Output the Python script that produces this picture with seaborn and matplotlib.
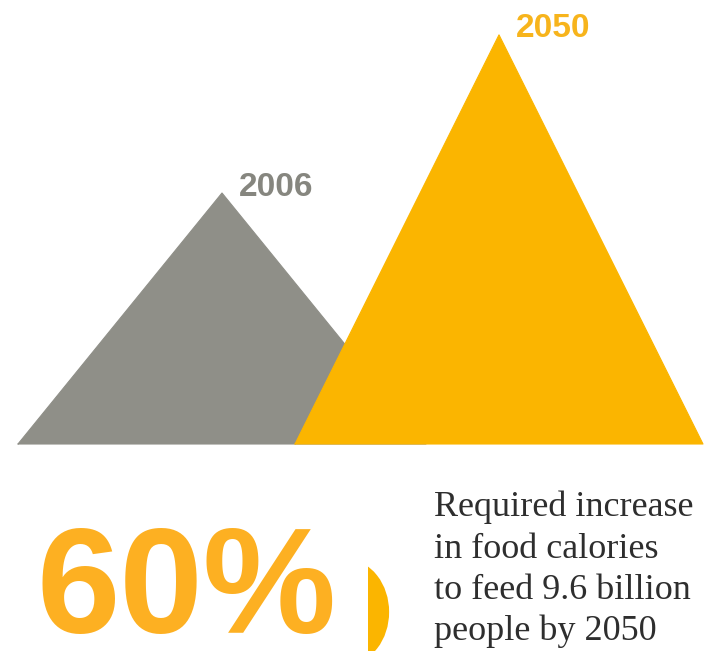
import numpy as np
import pandas as pd
import matplotlib
matplotlib.use("Agg")
import matplotlib.pyplot as plt
from matplotlib.patches import Rectangle, Ellipse
import seaborn as sns

# ---- data ----
years = ["2006", "2050"]
calorie_index = [100, 163]          # relative food calories (2006 = 100)
headline = "60%"
caption_lines = ["Required increase", "in food calories",
                 "to feed 9.6 billion", "people by 2050"]

# ---- style ----
sns.set_theme(style="white")
plt.rcParams["font.family"] = ["Liberation Sans", "DejaVu Sans"]

W, H = 707, 651
fig = plt.figure(figsize=(W / 100, H / 100), dpi=100)
ax = fig.add_axes([0, 0, 1, 1])

px_per_unit = 2.51
base_px = 444
centers = [222, 499]
half_w = 204
colors = ["#8f8f88", "#fbb500"]
label_colors = ["#86867f", "#f7b41c"]

ax.set_xlim(0, W)
ax.set_ylim(-(H - base_px) / px_per_unit, base_px / px_per_unit)
ax.axis("off")

for yr, val, cx, col, lcol in zip(years, calorie_index, centers, colors, label_colors):
    tri = pd.DataFrame({"x": [cx - half_w, cx, cx + half_w, cx - half_w],
                        "y": [0, val, 0, 0]})
    ax.fill(tri["x"], tri["y"], color=col, lw=0, zorder=2)
    sns.lineplot(data=tri, x="x", y="y", sort=False, color=col, lw=0.8,
                 ax=ax, zorder=2, estimator=None)
    ax.annotate(yr, xy=(cx, val), xytext=(17, 6), textcoords="offset pixels",
                ha="left", va="center", fontsize=24, fontweight="bold",
                color=lcol, zorder=3)
ax.set_xlabel("")
ax.set_ylabel("")

# partial gold glyph artifact behind the white box
ax_px = fig.add_axes([0, 0, 1, 1], zorder=5)
ax_px.set_xlim(0, W)
ax_px.set_ylim(H, 0)
ax_px.axis("off")
ax_px.add_patch(Ellipse((345, 612), 66, 84, facecolor="none",
                        edgecolor="#fbb500", lw=16, zorder=1))
ax_px.add_patch(Rectangle((0, 473), 368, 180, facecolor="white",
                          edgecolor="none", zorder=2))
fig.text(37 / W, 1 - 633 / H, headline, fontsize=108, fontweight="bold",
         color="#fdb022", ha="left", va="baseline", zorder=10,
         family=["Liberation Sans", "DejaVu Sans"])

for i, line in enumerate(caption_lines):
    fig.text(434 / W, 1 - (516 + i * 41.5) / H, line, fontsize=26,
             color="#2e2e2e", ha="left", va="baseline", zorder=10,
             family=["Liberation Serif", "DejaVu Serif"])

fig.savefig("out.png", dpi=100, facecolor="white")
